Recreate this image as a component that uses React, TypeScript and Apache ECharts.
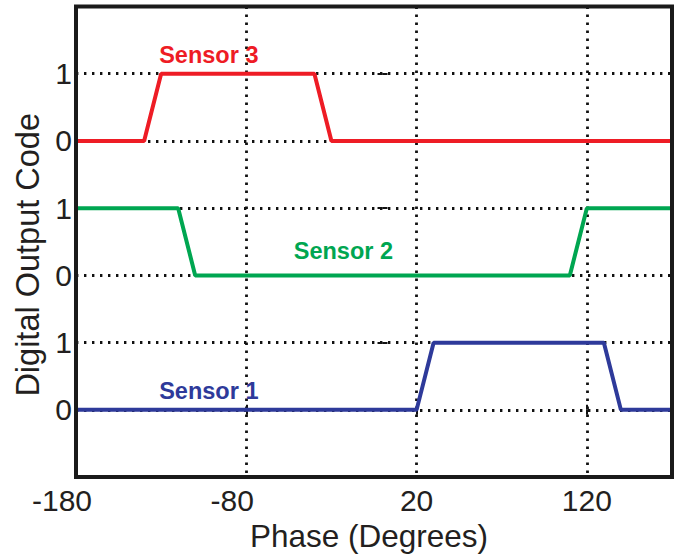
import React, { useEffect, useRef } from "react";
import * as echarts from "echarts";

// ---- data ----
const phaseMin = -180;
const phaseMax = 170;
const phaseStep = 100;
const phaseTickLabels = [-180, -80, 20, 120];

const levelValues = [-1, 0, 1, 2, 3, 4, 5, 6];
const levelLabels = ["", "0", "1", "0", "1", "0", "1", ""];

const sensorNames = ["Sensor 1", "Sensor 2", "Sensor 3"];
const sensorOffsets = [0, 2, 4];
const sensorColors = ["#2E3A9A", "#00A651", "#EE1C25"];

const sensor1Phase = [-180, 20, 30, 130, 140, 170];
const sensor1Code = [0, 0, 1, 1, 0, 0];
const sensor2Phase = [-180, -120, -110, 110, 120, 170];
const sensor2Code = [1, 1, 0, 0, 1, 1];
const sensor3Phase = [-180, -140, -130, -40, -30, 170];
const sensor3Code = [0, 0, 1, 1, 0, 0];

const labelPhase = [-102, -23, -102];
const labelLevel = [0.28, 2.37, 5.28];

const sensorPhases = [sensor1Phase, sensor2Phase, sensor3Phase];
const sensorCodes = [sensor1Code, sensor2Code, sensor3Code];

const FONT = "Liberation Sans, Arial, Helvetica, sans-serif";
const TEXT = "#231F20";

export default function App() {
  const ref = useRef<HTMLDivElement>(null);
  useEffect(() => {
    if (!ref.current) return;
    const chart = echarts.init(ref.current, null, { renderer: "svg" });

    const dotted = { color: "#111", width: 2.8, type: [2.4, 5.6] as number[] };

    const series: any[] = sensorNames.map((name, i) => ({
      name,
      type: "line",
      xAxisIndex: 0,
      yAxisIndex: 0,
      data: sensorPhases[i].map((p, k) => [p, sensorCodes[i][k] + sensorOffsets[i]]),
      symbol: "none",
      lineStyle: { color: sensorColors[i], width: 4 },
      itemStyle: { color: sensorColors[i] },
      z: 3,
      markPoint: {
        symbol: "circle",
        symbolSize: 0,
        silent: true,
        data: [
          {
            coord: [labelPhase[i], labelLevel[i]],
            label: {
              show: true,
              position: "inside",
              formatter: name,
              color: sensorColors[i],
              fontSize: 23.5,
              fontWeight: "bold",
              fontFamily: FONT,
            },
          },
        ],
      },
    }));

    const tickText = { fontSize: 30, color: TEXT, fontFamily: FONT };

    chart.setOption({
      animation: false,
      backgroundColor: "#fff",
      grid: {
        left: 76,
        right: 6,
        top: 6.5,
        bottom: 79.5,
        show: true,
        z: 10,
        borderColor: "#1a1a1a",
        borderWidth: 4,
        backgroundColor: "transparent",
      },
      xAxis: [
        {
          type: "value",
          min: phaseMin,
          max: phaseMax,
          interval: phaseStep,
          position: "bottom",
          name: "Phase (Degrees)",
          nameLocation: "middle",
          nameGap: 40,
          nameTextStyle: { fontSize: 31.5, color: TEXT, fontFamily: FONT, padding: [0, 10, 0, 0] },
          axisLine: { show: false },
          axisTick: { show: true, inside: true, length: 5, lineStyle: { color: "#111", width: 2 } },
          axisLabel: {
            ...tickText,
            margin: 8,
            rich: {
              neg: { ...tickText, padding: [0, 28, 0, 0] },
              pos: { ...tickText },
            },
            formatter: (v: number) =>
              phaseTickLabels.includes(v) ? (v < 0 ? `{neg|${v}}` : `{pos|${v}}`) : "",
          },
          splitLine: { show: true, lineStyle: dotted },
        },
        {
          type: "value",
          min: phaseMin,
          max: phaseMax,
          interval: phaseStep,
          position: "top",
          axisLine: { show: false },
          axisTick: { show: true, inside: true, length: 5, lineStyle: { color: "#111", width: 2 } },
          axisLabel: { show: false },
          splitLine: { show: false },
        },
      ],
      yAxis: [
        {
          type: "value",
          min: levelValues[0],
          max: levelValues[levelValues.length - 1],
          interval: 1,
          position: "left",
          name: "Digital Output Code",
          nameLocation: "middle",
          nameGap: 32,
          nameTextStyle: { fontSize: 32.5, color: TEXT, fontFamily: FONT, padding: [0, 26, 0, 0] },
          axisLine: { show: false },
          axisTick: { show: true, inside: true, length: 5, lineStyle: { color: "#111", width: 2 } },
          axisLabel: {
            ...tickText,
            margin: 4,
            formatter: (v: number) => {
              const idx = levelValues.indexOf(Math.round(v));
              return idx >= 0 ? levelLabels[idx] : "";
            },
          },
          splitLine: { show: true, lineStyle: dotted },
        },
        {
          type: "value",
          min: levelValues[0],
          max: levelValues[levelValues.length - 1],
          interval: 1,
          position: "right",
          axisLine: { show: false },
          axisTick: { show: true, inside: true, length: 5, lineStyle: { color: "#111", width: 2 } },
          axisLabel: { show: false },
          splitLine: { show: false },
        },
      ],
      series,
    });

    return () => chart.dispose();
  }, []);

  return (
    <div
      ref={ref}
      style={{ position: "fixed", left: 0, top: 0, width: 678, height: 557, background: "#fff" }}
    />
  );
}
